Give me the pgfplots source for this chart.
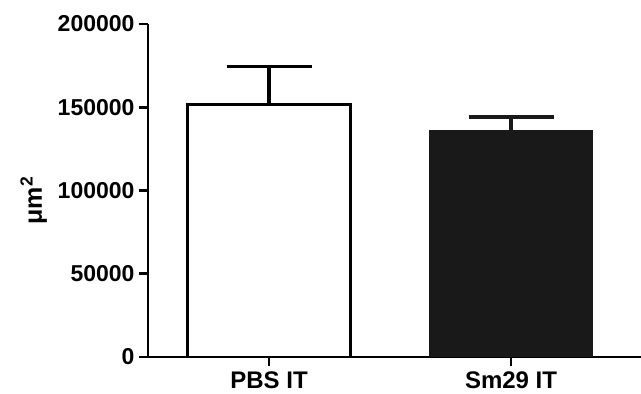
\documentclass[border=0pt]{standalone}
\usepackage{fontspec}
\setmainfont{Liberation Sans}
\usepackage{pgfplots}
\pgfplotsset{compat=1.18}
\begin{document}
\begin{tikzpicture}[x=1pt,y=1pt]
\useasboundingbox (0,0) rectangle (641,394);
\begin{axis}[
  at={(148pt,37pt)}, anchor=south west,
  scale only axis, width=493pt, height=333pt,
  xmin=-0.5, xmax=1.537, ymin=0, ymax=200000,
  axis lines*=left,
  axis line style={line width=2.6pt, -},
  xtick={0,1}, xticklabels={PBS IT, Sm29 IT},
  ytick={0,50000,100000,150000,200000},
  scaled y ticks=false,
  yticklabel style={/pgf/number format/fixed, /pgf/number format/1000 sep={}, font=\fontsize{23}{25}\selectfont\bfseries, /pgf/number format/assume math mode=true, xshift=-1pt},
  xticklabel style={font=\fontsize{24}{26}\selectfont\bfseries, yshift=-2pt},
  tick style={line width=2.6pt, black},
  tick align=outside, major tick length=9pt,
  ylabel={\fontsize{25}{27}\selectfont\bfseries μm\textsuperscript{2}},
  ylabel style={at={(ticklabel cs:0.47)}, yshift=4pt},
  clip=false,
]
\addplot[ybar, bar width=163pt, bar shift=0pt, draw=black, fill=white, line width=2.8pt,
  error bars/.cd, y dir=plus, y explicit, error mark=|,
  error bar style={line width=3.4pt, black},
  error mark options={line width=3.4pt, black, mark size=42.5pt}]
  coordinates {(0,151500) +- (0,22900)};
\addplot[ybar, bar width=163pt, bar shift=0pt, draw=black!90, fill=black!90, line width=1pt,
  error bars/.cd, y dir=plus, y explicit, error mark=|,
  error bar style={line width=3.4pt, black!90},
  error mark options={line width=3.4pt, black!90, mark size=42.5pt}]
  coordinates {(1,135900) +- (0,8300)};
\end{axis}
\end{tikzpicture}
\end{document}
